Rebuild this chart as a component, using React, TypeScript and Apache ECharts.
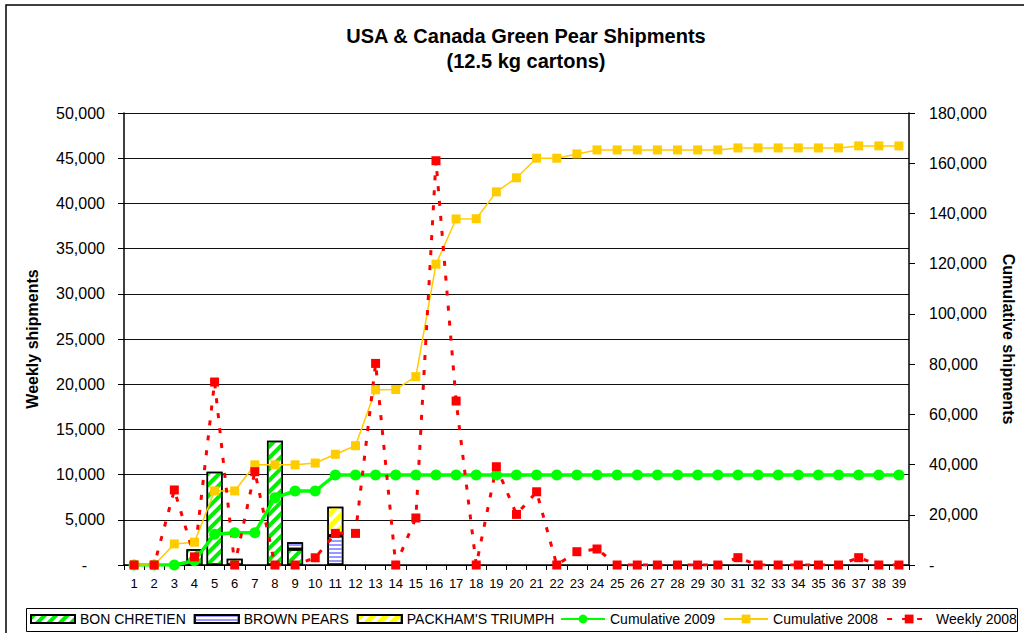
import React, { useEffect, useRef } from "react";
import * as echarts from "echarts";

const weeks = ["1","2","3","4","5","6","7","8","9","10","11","12","13","14","15","16","17","18","19","20","21","22","23","24","25","26","27","28","29","30","31","32","33","34","35","36","37","38","39"];

const bonChretien = [null,null,null,1740,10320,700,null,13750,1740,null,null,null,null,null,null,null,null,null,null,null,null,null,null,null,null,null,null,null,null,null,null,null,null,null,null,null,null,null,null];
const brownPears = [null,null,null,null,null,null,null,null,770,null,3240,null,null,null,null,null,null,null,null,null,null,null,null,null,null,null,null,null,null,null,null,null,null,null,null,null,null,null,null];
const packhamsTriumph = [null,null,null,null,null,null,null,null,null,null,3210,null,null,null,null,null,null,null,null,null,null,null,null,null,null,null,null,null,null,null,null,null,null,null,null,null,null,null,null];

const cumulative2009 = [0,0,0,1700,12220,12860,12860,26800,29470,29470,35840,35840,35840,35840,35840,35840,35840,35840,35840,35840,35840,35840,35840,35840,35840,35840,35840,35840,35840,35840,35840,35840,35840,35840,35840,35840,35840,35840,35840];
const cumulative2008 = [0,0,8400,9100,29500,29500,39900,39900,39900,40600,44100,47500,69800,69900,75000,119800,137800,137900,148600,154200,162000,162000,163700,165300,165300,165300,165300,165300,165300,165300,166100,166100,166100,166100,166100,166100,166900,166900,166900];
const weekly2008 = [0,0,8300,900,20240,0,10320,0,0,800,3500,3500,22300,0,5200,44720,18140,0,10870,5600,8100,0,1470,1770,0,0,0,0,0,0,810,0,0,0,0,0,810,0,0];

const leftTicks = { min: 0, max: 50000, interval: 5000 };
const rightTicks = { min: 0, max: 180000, interval: 20000 };

const FONT = "Liberation Sans, Arial, sans-serif";

function fmt(v: number) {
  return v === 0 ? "-" : v.toLocaleString("en-US");
}

export default function App() {
  const ref = useRef<HTMLDivElement>(null);
  useEffect(() => {
    if (!ref.current) return;
    const chart = echarts.init(ref.current, null, { renderer: "svg" });
    const barBase = {
      type: "bar",
      stack: "w",
      yAxisIndex: 0,
      barWidth: 16,
    };
    chart.setOption({
      animation: false,
      backgroundColor: "#fff",
      textStyle: { fontFamily: FONT },
      title: {
        text: "USA & Canada Green Pear Shipments\n(12.5 kg cartons)",
        left: 521,
        top: 18,
        textAlign: "center",
        textStyle: { fontFamily: FONT, fontSize: 20, fontWeight: "bold", color: "#000", lineHeight: 25 },
      },
      graphic: [
        { type: "rect", shape: { x: 6, y: 5, width: 1040, height: 660 }, style: { fill: "none", stroke: "#000", lineWidth: 1.5 }, silent: true },
        { type: "rect", shape: { x: 26.5, y: 608.5, width: 991, height: 23 }, style: { fill: "none", stroke: "#000", lineWidth: 1 }, silent: true },
      ],
      legend: [
        {
          left: 30,
          top: 612,
          padding: 0,
          itemGap: 8,
          itemWidth: 44,
          itemHeight: 8,
          textStyle: { fontFamily: FONT, fontSize: 14, color: "#000" },
          data: [
            { name: "BON CHRETIEN", icon: "rect" },
            { name: "BROWN PEARS", icon: "rect" },
            { name: "PACKHAM'S TRIUMPH", icon: "rect" },
          ],
        },
        {
          left: 560,
          top: 612,
          padding: 0,
          itemGap: 8,
          itemWidth: 44,
          itemHeight: 11,
          textStyle: { fontFamily: FONT, fontSize: 14, color: "#000" },
          data: ["Cumulative 2009", "Cumulative 2008", "Weekly 2008"],
        },
      ],
      grid: { left: 124, right: 114, top: 113, bottom: 68 },
      xAxis: {
        type: "category",
        data: weeks,
        boundaryGap: true,
        axisLine: { lineStyle: { color: "#000", width: 1.5 } },
        axisTick: { show: true, interval: 0, length: 5, lineStyle: { color: "#000" } },
        axisLabel: { interval: 0, fontFamily: FONT, fontSize: 13, color: "#000", margin: 12 },
      },
      yAxis: [
        {
          type: "value",
          ...leftTicks,
          position: "left",
          name: "Weekly shipments",
          nameLocation: "middle",
          nameGap: 84,
          nameTextStyle: { fontFamily: FONT, fontSize: 16, fontWeight: "bold", color: "#000" },
          axisLine: { show: true, lineStyle: { color: "#000", width: 1.5 } },
          axisTick: { show: true, length: 6, lineStyle: { color: "#000" } },
          splitLine: { show: true, lineStyle: { color: "#111", width: 1 } },
          axisLabel: {
            fontFamily: FONT,
            fontSize: 16,
            color: "#000",
            margin: 19,
            formatter: (v: number) => (v === 0 ? "{d|-}" : v.toLocaleString("en-US")),
            rich: { d: { fontFamily: FONT, fontSize: 16, color: "#000", padding: [0, 18, 0, 0] } },
          },
        },
        {
          type: "value",
          ...rightTicks,
          position: "right",
          name: "Cumulative shipments",
          nameLocation: "middle",
          nameGap: 91,
          nameRotate: -90,
          nameTextStyle: { fontFamily: FONT, fontSize: 16, fontWeight: "bold", color: "#000" },
          axisLine: { show: true, lineStyle: { color: "#000", width: 1.5 } },
          axisTick: { show: true, length: 6, lineStyle: { color: "#000" } },
          splitLine: { show: false },
          axisLabel: { fontFamily: FONT, fontSize: 16, color: "#000", margin: 20, formatter: fmt },
        },
      ],
      series: [
        {
          ...barBase,
          name: "BON CHRETIEN",
          data: bonChretien,
          itemStyle: {
            color: "#fff",
            borderColor: "#000",
            borderWidth: 1.5,
            decal: { symbol: "rect", symbolSize: 1, color: "#00ee00", dashArrayX: [1, 0], dashArrayY: [4, 4], rotation: -Math.PI / 4 },
          },
        },
        {
          ...barBase,
          name: "BROWN PEARS",
          data: brownPears,
          itemStyle: {
            color: "#fff",
            borderColor: "#000",
            borderWidth: 1.5,
            decal: { symbol: "rect", symbolSize: 1, color: "#9999ff", dashArrayX: [1, 0], dashArrayY: [2, 2], rotation: 0 },
          },
        },
        {
          ...barBase,
          name: "PACKHAM'S TRIUMPH",
          data: packhamsTriumph,
          itemStyle: {
            color: "#fff",
            borderColor: "#000",
            borderWidth: 1.5,
            decal: { symbol: "rect", symbolSize: 1, color: "#ffff00", dashArrayX: [1, 0], dashArrayY: [5, 4], rotation: -Math.PI / 4 },
          },
        },
        {
          type: "line",
          name: "Cumulative 2009",
          yAxisIndex: 1,
          data: cumulative2009,
          symbol: "circle",
          symbolSize: 11,
          color: "#00ff00",
          lineStyle: { color: "#00ff00", width: 3.5 },
          itemStyle: { color: "#00ff00" },
        },
        {
          type: "line",
          name: "Cumulative 2008",
          yAxisIndex: 1,
          data: cumulative2008,
          symbol: "rect",
          symbolSize: 9,
          color: "#ffcc00",
          lineStyle: { color: "#ffcc00", width: 1.5 },
          itemStyle: { color: "#ffcc00" },
        },
        {
          type: "line",
          name: "Weekly 2008",
          yAxisIndex: 0,
          data: weekly2008,
          symbol: "rect",
          symbolSize: 9,
          color: "#ff0000",
          lineStyle: { color: "#ff0000", width: 3, type: [5, 10] },
          itemStyle: { color: "#ff0000" },
        },
      ],
    });
    return () => chart.dispose();
  }, []);
  return <div ref={ref} style={{ position: "fixed", left: 0, top: 0, width: 1024, height: 633 }} />;
}
